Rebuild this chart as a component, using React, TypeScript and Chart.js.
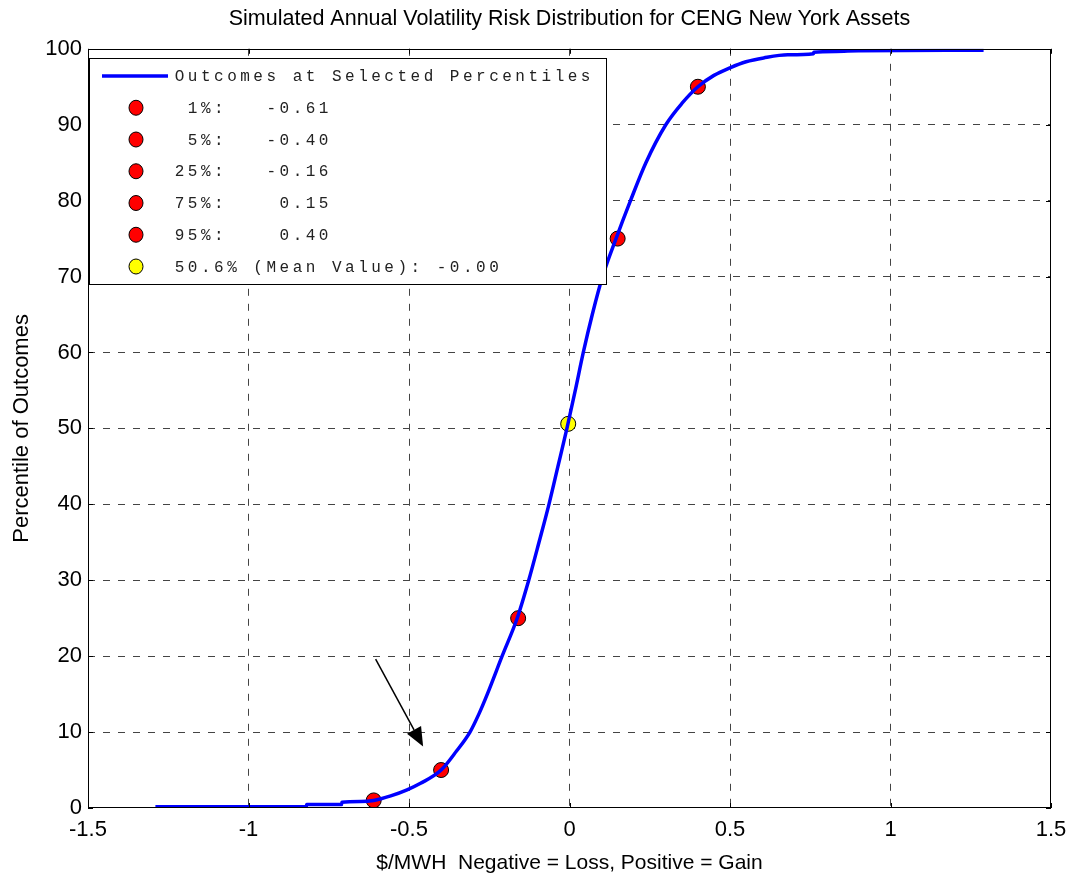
import { useEffect, useRef } from 'react';
import { Chart, registerables } from 'chart.js';

Chart.register(...registerables);

// ---- data ----
const chartTitle = 'Simulated Annual Volatility Risk Distribution for CENG New York Assets';
const xAxisTitle = '$/MWH  Negative = Loss, Positive = Gain';
const yAxisTitle = 'Percentile of Outcomes';
const legendTitle = 'Outcomes at Selected Percentiles';

// empirical cumulative distribution (x = $/MWH, y = percentile)
const cdfX = [-1.29, -0.82, -0.819, -0.71, -0.709, -0.65, -0.61, -0.557, -0.506, -0.464, -0.40, -0.352, -0.31, -0.281, -0.256, -0.21, -0.163, -0.127, -0.095, -0.064, -0.036, -0.008, 0.018, 0.043, 0.071, 0.103, 0.145, 0.19, 0.238, 0.30, 0.35, 0.40, 0.45, 0.50, 0.55, 0.605, 0.68, 0.76, 0.761, 0.83, 0.90, 1.29];
const cdfY = [0.17, 0.17, 0.45, 0.45, 0.75, 0.85, 1.0, 1.6, 2.4, 3.25, 5.0, 7.5, 10, 12.5, 15, 20, 25, 30, 35, 40, 45, 50, 55, 60, 65, 70, 75, 80, 85, 90, 92.8, 95, 96.5, 97.5, 98.3, 98.8, 99.2, 99.35, 99.55, 99.65, 99.75, 99.8];

const pctLevels = [1, 5, 25, 75, 95];
const pctValues = [-0.61, -0.40, -0.16, 0.15, 0.40];
const meanPct = 50.6;
const meanValue = -0.004;

const xTicks = [-1.5, 1.5, 0.5];
const yTicks = [0, 100, 10];

const arrowFrom = [-0.604, 19.6];
const arrowTo = [-0.456, 8.1];

const SANS = '"Liberation Sans Narrow", "Liberation Sans", Arial, sans-serif';
const MONO = '"Liberation Mono", "DejaVu Sans Mono", monospace';

const overlayPlugin = {
  id: 'overlay',
  afterDatasetsDraw(chart: any) {
    const { ctx, chartArea: ca, scales } = chart;
    const xs = scales.x;
    const ys = scales.y;
    ctx.save();
    // box
    ctx.strokeStyle = '#000';
    ctx.lineWidth = 1;
    ctx.setLineDash([]);
    ctx.strokeRect(Math.round(ca.left) + 0.5, Math.round(ca.top) + 0.5, Math.round(ca.right - ca.left) - 1, Math.round(ca.bottom - ca.top) - 1);
    // inward ticks
    const tl = 5;
    ctx.beginPath();
    for (let v = xTicks[0]; v <= xTicks[1] + 1e-9; v += xTicks[2]) {
      const px = Math.round(xs.getPixelForValue(v)) + 0.5;
      ctx.moveTo(px, ca.bottom); ctx.lineTo(px, ca.bottom - tl);
      ctx.moveTo(px, ca.top); ctx.lineTo(px, ca.top + tl);
    }
    for (let v = yTicks[0]; v <= yTicks[1] + 1e-9; v += yTicks[2]) {
      const py = Math.round(ys.getPixelForValue(v)) + 0.5;
      ctx.moveTo(ca.left, py); ctx.lineTo(ca.left + tl, py);
      ctx.moveTo(ca.right, py); ctx.lineTo(ca.right - tl, py);
    }
    ctx.stroke();

    // arrow
    const ax0 = xs.getPixelForValue(arrowFrom[0]);
    const ay0 = ys.getPixelForValue(arrowFrom[1]);
    const ax1 = xs.getPixelForValue(arrowTo[0]);
    const ay1 = ys.getPixelForValue(arrowTo[1]);
    const ang = Math.atan2(ay1 - ay0, ax1 - ax0);
    const hl = 19, hw = 8;
    const bx = ax1 - hl * Math.cos(ang);
    const by = ay1 - hl * Math.sin(ang);
    ctx.lineWidth = 1.5;
    ctx.beginPath();
    ctx.moveTo(ax0, ay0); ctx.lineTo(bx, by);
    ctx.stroke();
    ctx.fillStyle = '#000';
    ctx.beginPath();
    ctx.moveTo(ax1, ay1);
    ctx.lineTo(bx + hw * Math.sin(ang), by - hw * Math.cos(ang));
    ctx.lineTo(bx - hw * Math.sin(ang), by + hw * Math.cos(ang));
    ctx.closePath();
    ctx.fill();

    // legend
    const pitch = 13.1;
    const left = Math.round(ca.left) + 1;
    const top = Math.round(ca.top) + 9;
    const textX = left + 86;
    const rowH = 31.75;
    const rows: { text: string; kind: string }[] = [{ text: legendTitle, kind: 'line' }];
    pctLevels.forEach((p, i) => {
      const lab = (String(p) + '%:').padStart(4);
      const val = pctValues[i].toFixed(2).padStart(5);
      rows.push({ text: lab + '   ' + val, kind: 'red' });
    });
    rows.push({ text: meanPct + '% (Mean Value): ' + meanValue.toFixed(2), kind: 'yellow' });
    const maxChars = Math.max(...rows.map((r) => r.text.length));
    const w = Math.round(textX + maxChars * pitch + 12 - left);
    const h = Math.round(rows.length * rowH + 4);
    ctx.fillStyle = '#fff';
    ctx.fillRect(left, top, w, h);
    ctx.lineWidth = 1;
    ctx.strokeStyle = '#000';
    ctx.strokeRect(left + 0.5, top + 0.5, w, h);
    ctx.font = '16px ' + MONO;
    ctx.textBaseline = 'middle';
    ctx.textAlign = 'center';
    rows.forEach((r, i) => {
      const y = top + 18 + i * rowH;
      if (r.kind === 'line') {
        ctx.strokeStyle = '#0000ff';
        ctx.lineWidth = 3.5;
        ctx.beginPath();
        ctx.moveTo(left + 13, y); ctx.lineTo(left + 79, y);
        ctx.stroke();
      } else {
        ctx.fillStyle = r.kind === 'red' ? '#ff0000' : '#ffff00';
        ctx.strokeStyle = '#000';
        ctx.lineWidth = 1;
        ctx.beginPath();
        ctx.ellipse(left + 47, y, 7, 7.5, 0, 0, Math.PI * 2);
        ctx.fill();
        ctx.stroke();
      }
      ctx.fillStyle = '#222';
      for (let c = 0; c < r.text.length; c++) {
        ctx.fillText(r.text[c], textX + c * pitch + pitch / 2 - 2, y + 1);
      }
    });
    ctx.restore();
  },
};

const innerGrid = (min: number, max: number) => (c: any) => {
  const v = c.tick ? c.tick.value : NaN;
  return Math.abs(v - min) < 1e-9 || Math.abs(v - max) < 1e-9 ? 'rgba(0,0,0,0)' : '#444';
};

export default function App() {
  const ref = useRef<HTMLCanvasElement>(null);
  useEffect(() => {
    const cdfData = cdfX.map((x, i) => ({ x, y: cdfY[i] }));
    const pctData = pctValues.map((x, i) => ({ x, y: pctLevels[i] }));
    const chart = new Chart(ref.current as HTMLCanvasElement, {
      type: 'scatter',
      data: {
        datasets: [
          {
            label: legendTitle,
            data: cdfData,
            showLine: true,
            borderColor: '#0000ff',
            borderWidth: 3.5,
            pointRadius: 0,
            cubicInterpolationMode: 'monotone',
            fill: false,
          },
          {
            label: 'percentiles',
            data: pctData,
            pointRadius: 7.5,
            backgroundColor: '#ff0000',
            borderColor: '#000',
            borderWidth: 1,
          },
          {
            label: 'mean',
            data: [{ x: meanValue, y: meanPct }],
            pointRadius: 7.5,
            backgroundColor: '#ffff00',
            borderColor: '#000',
            borderWidth: 1,
          },
        ],
      } as any,
      options: {
        animation: false,
        responsive: false,
        devicePixelRatio: 1,
        layout: { padding: { left: 0, right: 19, top: 0, bottom: 0 } },
        plugins: {
          legend: { display: false },
          tooltip: { enabled: false },
          title: {
            display: true,
            text: chartTitle,
            fullSize: false,
            color: '#000',
            font: { family: SANS, size: 21.5, weight: 'normal' },
            padding: { top: 6, bottom: 17 },
          },
        },
        scales: {
          x: {
            type: 'linear',
            min: xTicks[0],
            max: xTicks[1],
            afterFit: (s: any) => { s.height = 69; s.paddingLeft = 0; s.paddingRight = 0; },
            ticks: {
              stepSize: xTicks[2],
              color: '#000',
              padding: 9,
              font: { family: SANS, size: 22 },
              callback: (v: any) => String(Math.round(Number(v) * 10) / 10),
            },
            grid: { color: innerGrid(xTicks[0], xTicks[1]), lineWidth: 1, drawTicks: false },
            border: { display: false, dash: [7, 8] },
            title: {
              display: true,
              text: xAxisTitle,
              color: '#000',
              font: { family: SANS, size: 21 },
              padding: { top: 0, bottom: 1 },
            },
          },
          y: {
            type: 'linear',
            min: yTicks[0],
            max: yTicks[1],
            afterFit: (s: any) => { s.width = 88; s.paddingTop = 0; s.paddingBottom = 0; },
            ticks: {
              stepSize: yTicks[2],
              color: '#000',
              padding: 6,
              font: { family: SANS, size: 22 },
            },
            grid: { color: innerGrid(yTicks[0], yTicks[1]), lineWidth: 1, drawTicks: false },
            border: { display: false, dash: [7, 8] },
            title: {
              display: true,
              text: yAxisTitle,
              color: '#000',
              font: { family: SANS, size: 22 },
              padding: { top: 9, bottom: 0 },
            },
          },
        },
      } as any,
      plugins: [overlayPlugin],
    });
    return () => chart.destroy();
  }, []);
  return (
    <div style={{ position: 'fixed', left: 0, top: 0, width: 1070, height: 877, background: '#fff' }}>
      <canvas ref={ref} width={1070} height={877} style={{ display: 'block', width: 1070, height: 877 }} />
    </div>
  );
}
